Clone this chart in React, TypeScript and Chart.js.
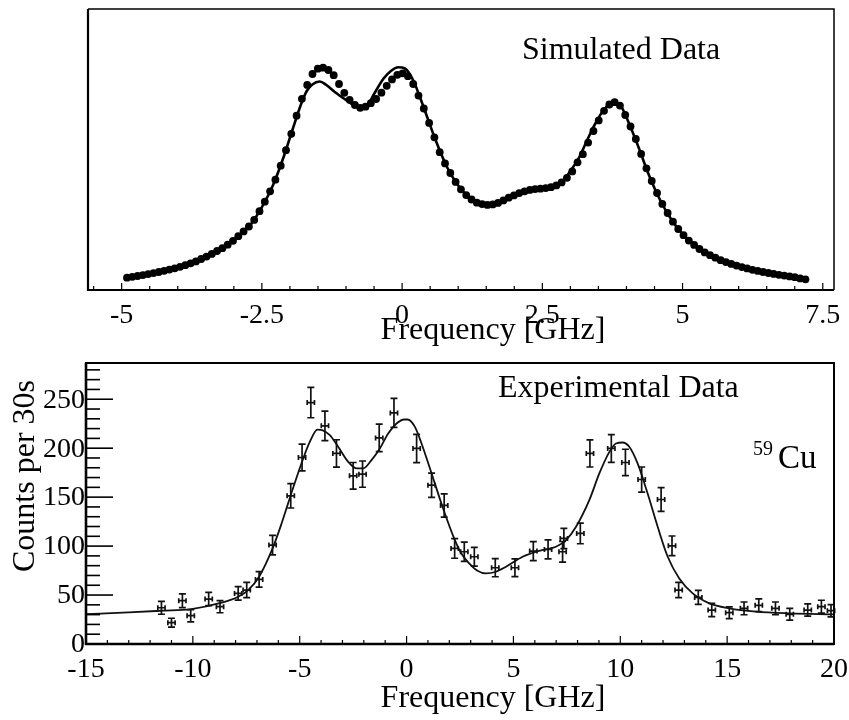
import { useEffect, useRef } from "react";
import { Chart, registerables } from "chart.js";

Chart.register(...registerables);

// ---------- Simulated data (top panel) ----------
const SIM_X_START = -4.905;
const SIM_X_STEP = 0.0945;
const SIM_DOTS = [
  12.3, 13.2, 14.0, 14.9, 15.9, 16.9, 18.0, 19.2, 20.4, 21.7,
  23.2, 24.8, 26.7, 28.6, 31.0, 33.4, 36.1, 39.0, 41.8, 45.3,
  49.2, 53.8, 58.6, 63.5, 70.1, 78.8, 88.3, 98.7, 110.3, 124.3,
  139.8, 156.2, 174.3, 191.2, 205.1, 216.0, 221.3, 222.3, 220.0, 214.8,
  206.0, 197.2, 190.2, 185.0, 182.2, 183.3, 186.8, 191.0, 197.3, 204.2,
  210.6, 215.2, 216.7, 213.8, 206.0, 194.4, 181.5, 167.1, 152.7, 137.8,
  126.6, 117.0, 108.1, 100.7, 94.9, 90.5, 87.3, 85.9, 85.1, 85.6,
  87.1, 89.6, 92.3, 94.6, 96.9, 98.7, 100.1, 100.9, 101.3, 101.9,
  102.8, 104.6, 107.6, 112.2, 118.6, 127.7, 135.8, 147.4, 159.0, 169.6,
  179.2, 185.5, 187.8, 184.4, 175.0, 163.5, 151.1, 136.1, 121.7, 109.0,
  97.0, 86.1, 77.0, 68.3, 61.0, 54.8, 49.4, 45.1, 41.0, 37.6,
  34.8, 32.3, 29.8, 27.9, 26.1, 24.4, 22.9, 21.6, 20.2, 19.1,
  18.0, 17.0, 16.1, 15.2, 14.4, 13.6, 12.8, 11.6, 10.7,
];
const SIM_LINE_X = [
  -4.9, -4.6, -4.3, -4.0, -3.7, -3.4, -3.1, -2.9, -2.7, -2.5, -2.3, -2.1, -1.95, -1.8,
  -1.7, -1.6, -1.47, -1.35, -1.2, -1.0, -0.85, -0.72, -0.6, -0.5, -0.33, -0.2, -0.07,
  0.05, 0.2, 0.32, 0.45, 0.6, 0.8, 1.0, 1.2, 1.4, 1.55, 1.7, 1.9, 2.1, 2.3, 2.5, 2.7,
  2.85, 3.0, 3.15, 3.3, 3.45, 3.6, 3.77, 3.9, 4.05, 4.2, 4.4, 4.6, 4.8, 5.0, 5.2, 5.5,
  5.8, 6.1, 6.4, 6.7, 7.0, 7.19,
];
const SIM_LINE_Y = [
  12.3, 15.1, 18.4, 22.4, 28.1, 35.9, 45.7, 55, 65.5, 82.9, 105, 135, 161, 186,
  199, 205.5, 208.5, 205, 198, 190, 184.5, 182.5, 186, 196, 211.5, 219, 222.7,
  221.5, 209.5, 192.5, 172.5, 149.5, 123, 104.6, 92.5, 86.4, 85, 86.7, 92, 97.2, 100.2, 101.4, 103.5,
  108, 119, 132, 150, 167, 180.5, 188, 184, 166, 145, 115, 90, 70.5, 55.8, 45.3, 34.5,
  27.4, 22.3, 18.4, 15.4, 12.8, 10.7,
];
const TOP_TICKS = [-5, -2.5, 0, 2.5, 5, 7.5];
const TOP_TICK_LABELS = ["-5", "-2.5", "0", "2.5", "5", "7.5"];

// ---------- Experimental data (bottom panel) ----------
const EXP_X = [
  -11.47, -11.0, -10.49, -10.1, -9.26, -8.73, -7.88, -7.48, -6.9, -6.27, -5.42, -4.89, -4.48,
  -3.82, -3.28, -2.5, -2.06, -1.28, -0.59, 0.47, 1.17, 1.76, 2.25, 2.7, 3.17, 4.15, 5.07,
  5.93, 6.62, 7.3, 7.36, 8.13, 8.58, 9.58, 10.24, 11.0, 11.91, 12.42, 12.73, 13.65, 14.28,
  15.1, 15.79, 16.48, 17.26, 17.93, 18.77, 19.41, 19.86,
];
const EXP_Y = [
  37.0, 21.8, 44.2, 28.9, 45.9, 38.1, 51.7, 55.1, 66, 101, 151.3, 190.5, 246.6,
  222.8, 194.6, 171.8, 173.5, 210.5, 236, 199.7, 162.2, 141.5, 97.6, 94.2, 89.1, 77.9, 77.9,
  94.9, 96.6, 94.2, 107.8, 112.9, 194.6, 199.7, 185.4, 168, 147.6, 100.3, 55.1, 47.6, 34.7,
  32, 36.4, 39.5, 36.4, 30.3, 34.7, 38.1, 34,
];
const EXP_ERR = [
  6.6, 4.5, 7, 6.3, 6.8, 6.2, 6.8, 7.8, 8, 10, 12.4, 13.6, 15.5,
  15, 14, 13.6, 13.4, 14, 14.8, 14.4, 12.4, 11.9, 10, 9.8, 9.5, 9.2, 9,
  9.7, 9.7, 10.5, 10.3, 10.5, 13.8, 14.2, 13.5, 12.8, 12.2, 10, 7.8, 7.2, 6.7,
  6, 6.5, 6.5, 6.5, 6, 6.3, 6.6, 6.3,
];
const EXP_XERR = 0.17;
const FIT_X = [
  -15, -13, -11.47, -10.07, -8.66, -7.88, -7.41, -6.9, -6.27, -5.85, -5.42, -4.92, -4.53,
  -4.17, -3.95, -3.59, -3.2, -2.73, -2.34, -2.03, -1.64, -1.25, -0.86, -0.47, -0.11, 0.05,
  0.39, 0.7, 1.17, 1.71, 2.26, 2.54, 2.93, 3.32, 3.71, 4.18, 4.65, 5.43, 6.21, 6.99, 7.46,
  7.93, 8.55, 9.02, 9.49, 9.8, 10.11, 10.42, 10.81, 11.28, 11.75, 12.22, 12.76, 13.39, 14.17,
  15.1, 16.35, 17.91, 20,
];
const FIT_Y = [
  30.5, 32.3, 34, 35.7, 42.2, 48.3, 55.1, 68.7, 97.6, 123, 152, 184.4, 206.4,
  219, 218.4, 213.3, 201.4, 186, 179.3, 179.3, 187.8, 199.7, 215, 225.2, 229.3, 229.3,
  221.8, 204.8, 174.2, 138.4, 106, 93.2, 82.3, 74.8, 72.1, 73.8, 78.9, 89.1, 95.2, 99.3, 106.1,
  119.7, 146.9, 174.2, 196.2, 204.8, 205.8, 201.4, 184.4, 153.7, 119.7, 89.1, 67, 51.7, 41.5,
  36.4, 33, 31.3, 30.3,
];
const BOT_X_TICKS = [-15, -10, -5, 0, 5, 10, 15, 20];
const BOT_X_LABELS = ["-15", "-10", "-5", "0", "5", "10", "15", "20"];
const BOT_Y_TICKS = [0, 50, 100, 150, 200, 250];
const BOT_Y_LABELS = ["0", "50", "100", "150", "200", "250"];

const FONT = '"Liberation Serif", "Times New Roman", serif';

function topPlugin() {
  return {
    id: "topAxes",
    afterDraw(chart: any) {
      const ctx = chart.ctx;
      const a = chart.chartArea;
      const xs = chart.scales.x;
      ctx.save();
      ctx.strokeStyle = "#000";
      ctx.lineWidth = 1.5;
      ctx.beginPath();
      ctx.moveTo(a.left, a.top);
      ctx.lineTo(a.right, a.top);
      ctx.lineTo(a.right, a.bottom);
      ctx.stroke();
      ctx.lineWidth = 2.2;
      ctx.beginPath();
      ctx.moveTo(a.left, a.top);
      ctx.lineTo(a.left, a.bottom);
      ctx.lineTo(a.right, a.bottom);
      ctx.stroke();
      ctx.lineWidth = 1.2;
      for (let v = -5.5; v <= 7.7; v += 0.5) {
        const major = Math.abs(v / 2.5 - Math.round(v / 2.5)) < 1e-6;
        const px = xs.getPixelForValue(v);
        ctx.beginPath();
        ctx.moveTo(px, a.bottom);
        ctx.lineTo(px, a.bottom - (major ? 7 : 4));
        ctx.stroke();
      }
      ctx.fillStyle = "#000";
      ctx.font = `28px ${FONT}`;
      ctx.textAlign = "center";
      ctx.textBaseline = "alphabetic";
      TOP_TICKS.forEach((v, i) => {
        ctx.fillText(TOP_TICK_LABELS[i], xs.getPixelForValue(v), 323);
      });
      ctx.font = `32px ${FONT}`;
      ctx.fillText("Frequency [GHz]", 493, 339);
      ctx.textAlign = "left";
      ctx.fillText("Simulated Data", 522, 59);
      ctx.restore();
    },
  };
}

function botPlugin() {
  return {
    id: "botAxes",
    afterDatasetsDraw(chart: any) {
      const ctx = chart.ctx;
      const xs = chart.scales.x;
      const ys = chart.scales.y;
      ctx.save();
      ctx.strokeStyle = "#111";
      ctx.lineWidth = 1.7;
      EXP_X.forEach((x, i) => {
        const px = xs.getPixelForValue(x);
        const py = ys.getPixelForValue(EXP_Y[i]);
        const pTop = ys.getPixelForValue(EXP_Y[i] + EXP_ERR[i]);
        const pBot = ys.getPixelForValue(EXP_Y[i] - EXP_ERR[i]);
        const pl = xs.getPixelForValue(x - EXP_XERR);
        const pr = xs.getPixelForValue(x + EXP_XERR);
        ctx.beginPath();
        ctx.moveTo(px, pTop);
        ctx.lineTo(px, pBot);
        ctx.moveTo(px - 3.5, pTop);
        ctx.lineTo(px + 3.5, pTop);
        ctx.moveTo(px - 3.5, pBot);
        ctx.lineTo(px + 3.5, pBot);
        ctx.moveTo(pl, py);
        ctx.lineTo(pr, py);
        ctx.moveTo(pl, py - 2.5);
        ctx.lineTo(pl, py + 2.5);
        ctx.moveTo(pr, py - 2.5);
        ctx.lineTo(pr, py + 2.5);
        ctx.stroke();
      });
      ctx.restore();
    },
    afterDraw(chart: any) {
      const ctx = chart.ctx;
      const a = chart.chartArea;
      const xs = chart.scales.x;
      const ys = chart.scales.y;
      ctx.save();
      ctx.strokeStyle = "#000";
      ctx.lineWidth = 2;
      ctx.strokeRect(a.left, a.top, a.right - a.left, a.bottom - a.top);
      ctx.lineWidth = 2.6;
      ctx.beginPath();
      ctx.moveTo(a.left, a.top);
      ctx.lineTo(a.left, a.bottom);
      ctx.lineTo(a.right, a.bottom);
      ctx.stroke();
      ctx.lineWidth = 1.6;
      for (let v = 0; v <= 280; v += 10) {
        const major = v % 50 === 0;
        const py = ys.getPixelForValue(v);
        ctx.beginPath();
        ctx.moveTo(a.left, py);
        ctx.lineTo(a.left + (major ? 27 : 14), py);
        ctx.stroke();
      }
      ctx.lineWidth = 1.2;
      for (let v = -15; v <= 20; v += 1) {
        const major = v % 5 === 0;
        const px = xs.getPixelForValue(v);
        ctx.beginPath();
        ctx.moveTo(px, a.bottom);
        ctx.lineTo(px, a.bottom - (major ? 8 : 4));
        ctx.stroke();
      }
      ctx.fillStyle = "#000";
      ctx.font = `28px ${FONT}`;
      ctx.textAlign = "center";
      ctx.textBaseline = "alphabetic";
      BOT_X_TICKS.forEach((v, i) => {
        ctx.fillText(BOT_X_LABELS[i], xs.getPixelForValue(v), 337);
      });
      ctx.textAlign = "right";
      ctx.textBaseline = "middle";
      BOT_Y_TICKS.forEach((v, i) => {
        ctx.fillText(BOT_Y_LABELS[i], a.left - 1, ys.getPixelForValue(v) + 1);
      });
      ctx.textBaseline = "alphabetic";
      ctx.textAlign = "center";
      ctx.font = `32px ${FONT}`;
      ctx.fillText("Frequency [GHz]", 493, 367);
      ctx.textAlign = "left";
      ctx.fillText("Experimental Data", 498, 57);
      ctx.font = `33px ${FONT}`;
      ctx.fillText("Cu", 778, 128);
      ctx.font = `20px ${FONT}`;
      ctx.fillText("59", 753, 115);
      ctx.save();
      ctx.translate(34, 136);
      ctx.rotate(-Math.PI / 2);
      ctx.font = `32px ${FONT}`;
      ctx.textAlign = "center";
      ctx.fillText("Counts per 30s", 0, 0);
      ctx.restore();
      ctx.restore();
    },
  };
}

export default function App() {
  const topRef = useRef<HTMLCanvasElement>(null);
  const botRef = useRef<HTMLCanvasElement>(null);

  useEffect(() => {
    const dots = SIM_DOTS.map((y, i) => ({ x: SIM_X_START + i * SIM_X_STEP, y }));
    const simLine = SIM_LINE_X.map((x, i) => ({ x, y: SIM_LINE_Y[i] }));
    const top = new Chart(topRef.current!, {
      type: "scatter",
      data: {
        datasets: [
          {
            data: simLine,
            showLine: true,
            borderColor: "#000",
            borderWidth: 2.6,
            pointRadius: 0,
            cubicInterpolationMode: "monotone",
          } as any,
          {
            data: dots,
            pointRadius: 3.9,
            backgroundColor: "#000",
            borderWidth: 0,
          },
        ],
      },
      options: {
        animation: false,
        responsive: false,
        devicePixelRatio: 1,
        events: [],
        layout: { padding: { left: 88, right: 15, top: 9, bottom: 70 } },
        plugins: { legend: { display: false }, tooltip: { enabled: false } },
        scales: {
          x: { type: "linear", min: -5.6, max: 7.7, display: false },
          y: { type: "linear", min: 0, max: 281, display: false },
        },
      },
      plugins: [topPlugin()],
    });

    const expPts = EXP_X.map((x, i) => ({ x, y: EXP_Y[i] }));
    const fit = FIT_X.map((x, i) => ({ x, y: FIT_Y[i] }));
    const bot = new Chart(botRef.current!, {
      type: "scatter",
      data: {
        datasets: [
          {
            data: fit,
            showLine: true,
            borderColor: "#111",
            borderWidth: 1.8,
            pointRadius: 0,
            cubicInterpolationMode: "monotone",
          } as any,
          {
            data: expPts,
            pointRadius: 0,
          },
        ],
      },
      options: {
        animation: false,
        responsive: false,
        devicePixelRatio: 1,
        events: [],
        layout: { padding: { left: 86, right: 15, top: 23, bottom: 76 } },
        plugins: { legend: { display: false }, tooltip: { enabled: false } },
        scales: {
          x: { type: "linear", min: -15, max: 20, display: false },
          y: { type: "linear", min: 0, max: 287, display: false },
        },
      },
      plugins: [botPlugin()],
    });
    return () => {
      top.destroy();
      bot.destroy();
    };
  }, []);

  return (
    <div style={{ position: "absolute", left: 0, top: 0, width: 849, height: 720, background: "#fff" }}>
      <canvas ref={topRef} width={849} height={360} style={{ position: "absolute", left: 0, top: 0, width: 849, height: 360 }} />
      <canvas ref={botRef} width={849} height={380} style={{ position: "absolute", left: 0, top: 340, width: 849, height: 380 }} />
    </div>
  );
}
